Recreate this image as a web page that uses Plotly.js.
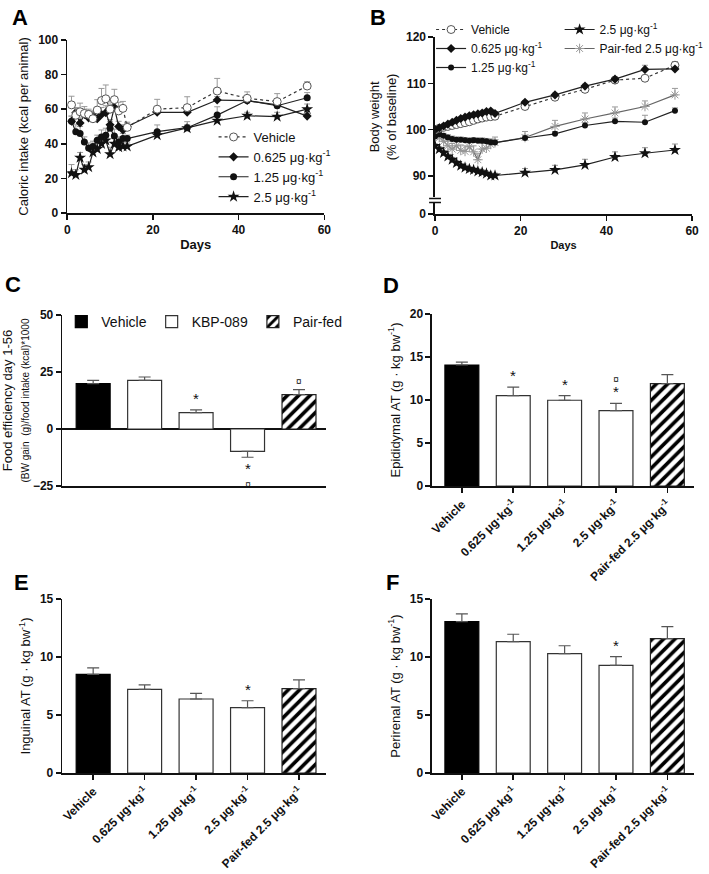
<!DOCTYPE html>
<html>
<head>
<meta charset="utf-8">
<script src="https://cdn.plot.ly/plotly-3.0.1.min.js"></script>
<style>html,body{margin:0;padding:0;background:#fff}#plot{width:709px;height:874px}</style>
</head>
<body>
<div id="plot"></div>
<script>
// Panel A: caloric intake (kcal per animal)
const daysA = [1,2,3,4,5,6,7,8,9,10,11,12,13,14,21,28,35,42,49,56];
const vehA  = [62.5,56.5,58.5,57.5,57,54.5,59.5,65,66,60,65.5,59,60.5,49.5,60,60.9,70.5,66.3,64.4,73.4];
const d1A   = [53,58,52,57,55,56,54.5,57,58,51,61,50,48,50,58.2,58.2,65.3,65,62.5,56];
const d2A   = [53,47,46,41,37.5,38.5,42,44,45,49,44.5,41,43,43,47,49.3,56.6,65,62,66.6];
const d3A   = [23,22,32,25,26.5,35,37,40,42,34,40,38,38.5,38.5,45,49,53.4,56.2,55.7,60];
const errVehA = [5,4,5,4,3,4,6,7,8,5,6,5,4,3,5.7,6.3,7.3,3.7,4.6,2.5];
const errD1A  = [3,3,3,3,3,3,3,4,4,3,4,3,3,2,2,2,2,2,2,2];
const errD2A  = [3,4,4,3,3,3,3,4,4,4,4,3,3,2,3.9,3.5,4.8,2,2.5,3];
const errD3A  = [5,3,3,3,3,3,3,3,4,4,3,3,2,2,2,2,2.5,2,2.5,3];

// Panel B: body weight (% of baseline)
const daysB = [0,1,2,3,4,5,6,7,8,9,10,11,12,13,14,21,28,35,42,49,56];
const vehB = [100,100.3,100.5,100.7,100.9,101.1,101.3,101.5,101.7,102,102.3,102.5,102.7,102.8,102.9,105,107,108.7,110.7,111.1,113.9];
const d1B  = [100,100.4,100.8,101.2,101.6,102,102.4,102.7,103,103.2,103.4,103.6,103.9,104,103.5,105.9,107.5,109.4,110.9,113,113.1];
const d2B  = [98.5,99,98.7,98.3,98,97.8,97.8,97.7,97.6,97.7,97.6,97.6,97.5,97.3,97.2,98.2,99.1,100.9,101.8,101.6,104.1];
const d3B  = [96.5,95.8,95,94.2,93.5,92.8,92.2,91.8,91.5,91.3,91,90.8,90.5,90.1,90.1,90.7,91.3,92.4,94.1,94.9,95.6];
const pfB  = [98.5,98.3,97.5,96.5,95.8,96.5,95.5,95.3,96.3,95.2,93.5,95.8,96,96.8,97.2,98.3,100.7,102.3,103.6,105,107.5];
const errVehB = [0.3,0.3,0.3,0.3,0.3,0.4,0.4,0.4,0.4,0.4,0.4,0.4,0.4,0.4,0.4,0.5,0.5,0.5,0.5,0.6,0.8];
const errD1B  = [0.3,0.3,0.3,0.3,0.3,0.3,0.3,0.3,0.4,0.4,0.4,0.4,0.4,0.4,0.4,0.4,0.4,0.4,0.4,0.9,0.4];
const errD2B  = [0.5,0.5,0.5,0.6,0.6,0.6,0.6,0.6,0.6,0.6,0.6,0.6,0.6,0.6,0.6,0.6,0.5,0.6,0.7,1.5,0.6];
const errD3B  = [0.4,0.5,0.5,0.5,0.5,0.5,0.5,0.5,0.5,0.5,0.5,0.5,0.5,0.5,0.5,0.9,1,1.2,1.1,1.2,1.3];
const errPfB  = [0.6,0.8,1,1,1.2,1.2,1.2,1.2,1.2,1.3,1.3,1.2,1.2,1.2,1.2,1.3,1.3,1.3,1.3,1.2,1.4];

// Panels C-F: group bars
const cats = ["Vehicle","0.625","1.25","2.5","Pair-fed"];
const catLabels = ["Vehicle","0.625 μg·kg<sup>-1</sup>","1.25 μg·kg<sup>-1</sup>","2.5 μg·kg<sup>-1</sup>","Pair-fed 2.5 μg·kg<sup>-1</sup>"];
const effC = [19.9,21.3,7.2,-9.8,15.1];
const errC = [1.4,1.5,1.2,2.6,2.2];
const sigC = [[],[],["*"],["*","¤"],["¤"]];
const epiD = [14.07,10.5,9.97,8.76,11.9];
const errD = [0.33,1.0,0.55,0.85,1.05];
const sigD = [[],["*"],["*"],["*","¤"],[]];
const ingE = [8.5,7.21,6.38,5.63,7.27];
const errE = [0.57,0.38,0.49,0.6,0.75];
const sigE = [[],[],[],["*"],[]];
const periF = [13.05,11.32,10.29,9.28,11.58];
const errF = [0.66,0.64,0.68,0.75,1.03];
const sigF = [[],[],[],["*"],[]];

const W = 709, H = 874;
const px = x => x / W;
const py = y => 1 - y / H;
const FONT = "Arial, 'Liberation Sans', sans-serif";
const zeros = a => a.map(() => 0);

function axis(extra) {
  return Object.assign({
    showline: true, linecolor: "#111", linewidth: 1.6,
    ticks: "outside", ticklen: 5, tickwidth: 1.5, tickcolor: "#111",
    showgrid: false, zeroline: false,
    tickfont: {size: 12, weight: "bold", color: "#111", family: FONT}
  }, extra);
}

const traces = [];

// ---- A ----
function lineA(name, y, err, sym, opts, rank) {
  return Object.assign({
    type: "scatter", mode: "lines+markers", name: name, x: daysA, y: y,
    xaxis: "x", yaxis: "y", legend: "legend", legendrank: rank,
    line: {color: "#222", width: 1.2},
    marker: {symbol: sym, size: 7, color: "#111"},
    error_y: {type: "data", symmetric: false, array: err, arrayminus: zeros(err), color: "#999", thickness: 1, width: 3}
  }, opts);
}
traces.push(lineA("2.5 μg·kg<sup>-1</sup>", d3A, errD3A, "star", {marker: {symbol: "star", size: 9, color: "#111"}}, 4));
traces.push(lineA("1.25 μg·kg<sup>-1</sup>", d2A, errD2A, "circle", {}, 3));
traces.push(lineA("0.625 μg·kg<sup>-1</sup>", d1A, errD1A, "diamond", {}, 2));
traces.push(lineA("Vehicle", vehA, errVehA, "circle", {
  line: {color: "#333", width: 1.2, dash: "dot"},
  marker: {symbol: "circle", size: 8, color: "white", line: {color: "#555", width: 1}}
}, 1));

// ---- B ----
function lineB(name, y, err, leg, rank, opts) {
  return Object.assign({
    type: "scatter", mode: "lines+markers", name: name, x: daysB, y: y,
    xaxis: "x2", yaxis: "y2", legend: leg, legendrank: rank,
    line: {color: "#222", width: 1.2},
    marker: {symbol: "circle", size: 6, color: "#111"},
    error_y: {type: "data", symmetric: false, array: err, arrayminus: zeros(err), color: "#999", thickness: 1, width: 3}
  }, opts);
}
traces.push(lineB("Pair-fed 2.5 μg·kg<sup>-1</sup>", pfB, errPfB, "legend3", 2, {
  line: {color: "#666", width: 1.2},
  marker: {symbol: "asterisk-open", size: 8, color: "#999", line: {color: "#999", width: 1}}
}));
traces.push(lineB("2.5 μg·kg<sup>-1</sup>", d3B, errD3B, "legend3", 1, {marker: {symbol: "star", size: 9, color: "#111"}}));
traces.push(lineB("1.25 μg·kg<sup>-1</sup>", d2B, errD2B, "legend2", 3, {}));
traces.push(lineB("Vehicle", vehB, errVehB, "legend2", 1, {
  line: {color: "#333", width: 1.2, dash: "dot"},
  marker: {symbol: "circle", size: 8, color: "white", line: {color: "#555", width: 1}}
}));
traces.push(lineB("0.625 μg·kg<sup>-1</sup>", d1B, errD1B, "legend2", 2, {marker: {symbol: "diamond", size: 7, color: "#111"}}));
// empty trace so the short lower segment of B's broken axis is drawn
traces.push({type: "scatter", mode: "markers", x: [null], y: [null], xaxis: "x2", yaxis: "y3", showlegend: false, hoverinfo: "skip"});

// ---- bar panels ----
const panels = [
  {vals: effC, err: errC, sig: sigC, xa: "x3", ya: "y4", legend: true},
  {vals: epiD, err: errD, sig: sigD, xa: "x4", ya: "y5"},
  {vals: ingE, err: errE, sig: sigE, xa: "x5", ya: "y6"},
  {vals: periF, err: errF, sig: sigF, xa: "x6", ya: "y7"}
];
const groups = [
  {name: "Vehicle", idx: [0], marker: {color: "#000", line: {color: "#000", width: 1.2}}},
  {name: "KBP-089", idx: [1, 2, 3], marker: {color: "#fff", line: {color: "#333", width: 1.2}}},
  {name: "Pair-fed", idx: [4], marker: {color: "#fff", line: {color: "#222", width: 1.2},
    pattern: {shape: "/", fgcolor: "#000", bgcolor: "#fff", size: 8, solidity: 0.45}}}
];
const symText = s => s === "*" ? "<span style='font-size:15px'>*</span>" : "<span style='font-size:10px'>" + s + "</span>";
const annotations = [];
panels.forEach(p => {
  groups.forEach(g => {
    const v = g.idx.map(i => p.vals[i]);
    const e = g.idx.map(i => p.err[i]);
    traces.push({
      type: "bar", name: g.name, x: g.idx.map(i => cats[i]), y: v, width: 0.66,
      xaxis: p.xa, yaxis: p.ya, marker: g.marker,
      showlegend: !!p.legend, legend: "legend4",
      error_y: {type: "data", symmetric: false,
        array: v.map((y, k) => y >= 0 ? e[k] : 0),
        arrayminus: v.map((y, k) => y < 0 ? e[k] : 0),
        color: "#555", thickness: 1.2, width: 6}
    });
  });
  p.sig.forEach((syms, i) => {
    if (!syms.length) return;
    const neg = p.vals[i] < 0;
    // symbols listed outward from the bar end
    const lines = (neg ? syms : syms.slice().reverse()).map(symText);
    annotations.push({
      xref: p.xa, yref: p.ya, x: i, xanchor: "center",
      y: neg ? p.vals[i] - p.err[i] : p.vals[i] + p.err[i],
      yanchor: neg ? "top" : "bottom", yshift: neg ? -1 : 1,
      text: lines.join("<br>"), showarrow: false,
      font: {size: 11, color: "#111", family: FONT}
    });
  });
});

// panel letters
[["A", 10, 3], ["B", 372, 3], ["C", 3, 270], ["D", 385, 271], ["E", 12, 568], ["F", 388, 568]].forEach(l => {
  annotations.push({xref: "paper", yref: "paper", x: px(l[1]), y: py(l[2]), xanchor: "left", yanchor: "top",
    text: "<b>" + l[0] + "</b>", showarrow: false, font: {size: 22, color: "#000", family: FONT}});
});

const titleFont = {size: 13, color: "#111", family: FONT};
const catAxis = (dom, anchor, rng) => axis({
  domain: dom, anchor: anchor, type: "category", range: rng,
  tickmode: "array", tickvals: cats, ticktext: catLabels, tickangle: -45,
  tickfont: {size: 12, weight: "bold", color: "#111", family: FONT}
});

const layout = {
  width: W, height: H, margin: {l: 0, r: 0, t: 0, b: 0},
  paper_bgcolor: "#fff", plot_bgcolor: "#fff",
  font: {family: FONT, color: "#111"},
  barmode: "overlay", showlegend: true,
  xaxis: axis({domain: [px(68), px(328)], anchor: "y", range: [0, 60], tickvals: [0, 20, 40, 60],
    title: {text: "<b>Days</b>", font: {size: 13, family: FONT}, standoff: 4}}),
  yaxis: axis({domain: [py(213), py(40)], anchor: "x", range: [0, 100], tickvals: [0, 20, 40, 60, 80, 100],
    title: {text: "Caloric intake (kcal per animal)", font: titleFont, standoff: 6}}),
  xaxis2: axis({domain: [px(440), px(700)], anchor: "y3", range: [0, 60], tickvals: [0, 20, 40, 60],
    title: {text: "<b>Days</b>", font: {size: 11, family: FONT}, standoff: 4}}),
  yaxis2: axis({domain: [py(196.8), py(37)], anchor: "x2", range: [85.5, 120], tickvals: [90, 100, 110, 120],
    title: {text: "Body weight<br>(% of baseline)", font: titleFont, standoff: 6}}),
  yaxis3: axis({domain: [py(214), py(203)], anchor: "x2", range: [0, 2.4], tickvals: [0]}),
  xaxis3: axis({domain: [px(63), px(330)], anchor: "y4", type: "category", range: [-0.6, 4.53],
    showticklabels: false, ticks: ""}),
  yaxis4: axis({domain: [py(486), py(315)], anchor: "x3", range: [-25, 50], tickvals: [-25, 0, 25, 50],
    zeroline: true, zerolinecolor: "#111", zerolinewidth: 1.6,
    title: {text: "Food efficiency day 1-56<br><span style='font-size:10px'>(BW gain  (g)/food intake (kcal)*1000</span>", font: titleFont, standoff: 6}}),
  xaxis4: catAxis([px(437), px(702)], "y5", [-0.58, 4.52]),
  yaxis5: axis({domain: [py(486), py(314)], anchor: "x4", range: [0, 20], tickvals: [0, 5, 10, 15, 20],
    title: {text: "Epididymal AT (g · kg bw<sup>-1</sup>)", font: titleFont, standoff: 6}}),
  xaxis5: catAxis([px(63), px(330)], "y6", [-0.6, 4.53]),
  yaxis6: axis({domain: [py(773), py(599)], anchor: "x5", range: [0, 15], tickvals: [0, 5, 10, 15],
    title: {text: "Inguinal AT (g · kg bw<sup>-1</sup>)", font: titleFont, standoff: 6}}),
  xaxis6: catAxis([px(437), px(702)], "y7", [-0.58, 4.52]),
  yaxis7: axis({domain: [py(773), py(599)], anchor: "x6", range: [0, 15], tickvals: [0, 5, 10, 15],
    title: {text: "Perirenal AT (g · kg bw<sup>-1</sup>)", font: titleFont, standoff: 6}}),
  legend: {x: px(216), y: py(122), xanchor: "left", yanchor: "top", bgcolor: "rgba(0,0,0,0)",
    font: {size: 13, family: FONT, color: "#111"}, tracegroupgap: 0},
  legend2: {x: px(436), y: py(15), xanchor: "left", yanchor: "top", bgcolor: "rgba(0,0,0,0)",
    font: {size: 12, family: FONT, color: "#111"}, tracegroupgap: 0},
  legend3: {x: px(566), y: py(15), xanchor: "left", yanchor: "top", bgcolor: "rgba(0,0,0,0)",
    font: {size: 12, family: FONT, color: "#111"}, tracegroupgap: 0},
  legend4: {x: px(62), y: py(306), xanchor: "left", yanchor: "top", orientation: "h", bgcolor: "rgba(0,0,0,0)",
    font: {size: 14, family: FONT, color: "#111"}},
  shapes: [
    {type: "line", xref: "paper", yref: "paper", x0: px(434), x1: px(446), y0: py(198.5), y1: py(198.5), line: {color: "#111", width: 1.5}},
    {type: "line", xref: "paper", yref: "paper", x0: px(434), x1: px(446), y0: py(202.5), y1: py(202.5), line: {color: "#111", width: 1.5}}
  ],
  annotations: annotations
};

Plotly.newPlot("plot", traces, layout, {displayModeBar: false, staticPlot: true});
</script>
</body>
</html>
